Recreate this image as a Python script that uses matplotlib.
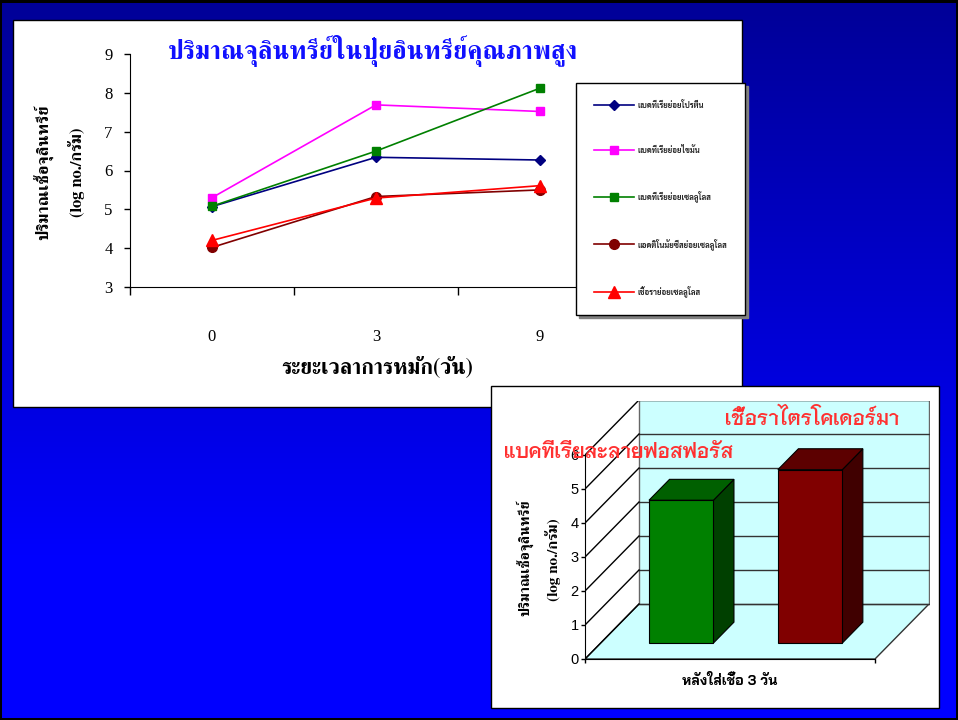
import numpy as np
import matplotlib
matplotlib.use("Agg")
import matplotlib.pyplot as plt
from matplotlib.patches import Rectangle, Polygon
from matplotlib.transforms import Affine2D

# ---- ข้อมูลกราฟเส้น: ปริมาณจุลินทรีย์ (log no./กรัม) ตามระยะเวลาการหมัก ----
DAYS = ["0", "3", "9"]
SERIES_NAMES = [
    "แบคทีเรียย่อยโปรตีน",
    "แบคทีเรียย่อยไขมัน",
    "แบคทีเรียย่อยเซลลูโลส",
    "แอคติโนมัยซีสย่อยเซลลูโลส",
    "เชื้อราย่อยเซลลูโลส",
]
PROTEIN = [5.07, 6.34, 6.27]
FAT = [5.30, 7.69, 7.52]
CELLULOSE_BACT = [5.08, 6.50, 8.12]
ACTINO = [4.02, 5.33, 5.50]
FUNGI = [4.20, 5.29, 5.61]

# ---- ข้อมูลกราฟแท่ง: หลังใส่เชื้อ 3 วัน ----
BAR_CATEGORY = "หลังใส่เชื้อ 3 วัน"
BAR_NAMES = ["แบคทีเรียละลายฟอสฟอรัส", "เชื้อราไตรโคเดอร์มา"]
BAR_VALUES = [4.2, 5.1]

W, H = 958, 720
SERIF_TH = "FreeSerif"

fig = plt.figure(figsize=(W / 100, H / 100), dpi=100)

# พิกัดเป็นพิกเซลจากมุมซ้ายบน
px = Affine2D().scale(1 / W, -1 / H).translate(0, 1) + fig.transFigure


def fig_axes(left, top, right, bottom):
    return fig.add_axes([left / W, 1 - bottom / H, (right - left) / W, (bottom - top) / H])


# พื้นหลังไล่สีน้ำเงิน
bg = fig.add_axes([0, 0, 1, 1], zorder=-10)
rows = np.arange(H)
blue = np.clip(0.6 + 0.4 * (rows - 10) / 550, 0.6, 1.0)
grad = np.zeros((H, 1, 3))
grad[:, 0, 2] = blue
bg.imshow(grad, aspect="auto", extent=(0, W, H, 0))
bg.set_xlim(0, W)
bg.set_ylim(H, 0)
bg.axis("off")
for r in [(0, 0, W, 3), (0, 0, 2, H), (W - 2, 0, 2, H), (0, H - 2, W, 2)]:
    bg.add_patch(Rectangle(r[:2], r[2], r[3], color="black", lw=0))

# กรอบสีขาวของกราฟเส้น
fig.patches.append(Rectangle((13, 20), 729, 387, transform=px, facecolor="white",
                             edgecolor="black", lw=1, zorder=-5))
# กรอบสีขาวของกราฟแท่ง
fig.patches.append(Rectangle((491, 386), 448, 322, transform=px, facecolor="white",
                             edgecolor="black", lw=1, zorder=5))

# ---------------- กราฟเส้น ----------------
ax = fig_axes(130, 54, 622, 287)
ax.set_facecolor("none")
styles = [
    (PROTEIN, "#000080", "D", 5.5),
    (FAT, "#FF00FF", "s", 6),
    (CELLULOSE_BACT, "#008000", "s", 6),
    (ACTINO, "#800000", "o", 7),
    (FUNGI, "#FF0000", "^", 8),
]
x = np.arange(len(DAYS))
handles = []
for vals, color, marker, ms in styles:
    line, = ax.plot(x, vals, color=color, marker=marker, ms=ms, lw=1.2, clip_on=False)
    handles.append(line)

ax.set_xlim(-0.5, len(DAYS) - 0.5)
ax.set_ylim(3, 9)
for s in ["top", "right"]:
    ax.spines[s].set_visible(False)
ax.set_yticks(range(3, 10))
ax.set_xticks(x, DAYS)
ax.set_xticks(np.arange(len(DAYS) + 1) - 0.5, minor=True)
ax.tick_params(axis="y", direction="out", length=4.5, width=1, pad=8, labelsize=12)
ax.tick_params(axis="x", which="major", length=0, pad=30, labelsize=12)
ax.tick_params(axis="x", which="minor", direction="out", length=6, width=1)
for lab in ax.get_xticklabels() + ax.get_yticklabels():
    lab.set_family("Liberation Serif")

fig.text(373, 51, "ปริมาณจุลินทรีย์ในปุ๋ยอินทรีย์คุณภาพสูง", transform=px, ha="center",
         va="center", color="#1010FF", fontsize=18.4, weight="bold", family=SERIF_TH)
fig.text(377, 367, "ระยะเวลาการหมัก(วัน)", transform=px, ha="center", va="center",
         fontsize=15.5, weight="bold", family=SERIF_TH)
fig.text(43, 172, "ปริมาณเชื้อจุลินทรีย์", transform=px, ha="center", va="center",
         rotation=90, fontsize=12.2, weight="bold", family=SERIF_TH)
fig.text(77, 172, "(log no./กรัม)", transform=px, ha="center", va="center",
         rotation=90, fontsize=12, weight="bold", family=SERIF_TH)

leg = fig.legend(handles, SERIES_NAMES, loc="upper left", bbox_to_anchor=(576, 83),
                 bbox_transform=px, borderaxespad=0, borderpad=2.3, labelspacing=4.6,
                 handlelength=5.2, handletextpad=0.4, fancybox=False, framealpha=1,
                 edgecolor="black", shadow={"color": "gray", "alpha": 1},
                 prop={"family": "Sarabun", "weight": "bold", "size": 5.6})
leg.get_frame().set_linewidth(1)
for t in leg.get_texts():
    t.set_color("#222222")

# ---------------- กราฟแท่งสามมิติ ----------------
DX, DZ = 54 / 290, 55 / 34      # ระยะเยื้องของความลึก (หน่วยข้อมูล)
bx = fig_axes(585, 401, 930, 659)
bx.set_zorder(6)
bx.set_facecolor("none")
bx.set_xlim(0, 345 / 290)
bx.set_ylim(0, 258 / 34)
ymax = 6

# ผนังซ้าย พื้น และผนังหลัง
bx.add_patch(Polygon([(0, 0), (DX, DZ), (DX, DZ + ymax), (0, ymax)], closed=True,
                     facecolor="white", edgecolor="none", zorder=0))
bx.add_patch(Polygon([(0, 0), (1, 0), (1 + DX, DZ), (DX, DZ)], closed=True,
                     facecolor="#CCFFFF", edgecolor="#333333", lw=1, zorder=0))
bx.add_patch(Rectangle((DX, DZ), 1, ymax, facecolor="#CCFFFF", edgecolor="#666666",
                       lw=1, zorder=0))
for v in range(ymax + 1):
    bx.plot([DX, 1 + DX], [DZ + v, DZ + v], color="#333333", lw=1, zorder=1)
    bx.plot([0, DX], [v, DZ + v], color="black", lw=1, zorder=1)

bar_w = 1 / 4.5
d0, d1 = 0.29, 0.67
faces = [("#008000", "#006000", "#004000"), ("#800000", "#5C0000", "#400000")]
for i, (val, (cf, ct, cs)) in enumerate(zip(BAR_VALUES, faces)):
    x0 = 0.75 * bar_w + i * 2 * bar_w
    fx, fz = x0 + d0 * DX, d0 * DZ
    rx, rz = x0 + d1 * DX, d1 * DZ
    # ด้านข้าง ด้านบน และด้านหน้าของแท่ง
    bx.add_patch(Polygon([(fx + bar_w, fz), (rx + bar_w, rz), (rx + bar_w, rz + val),
                          (fx + bar_w, fz + val)], closed=True, facecolor=cs,
                         edgecolor="black", lw=0.8, zorder=3))
    bx.add_patch(Polygon([(fx, fz + val), (fx + bar_w, fz + val), (rx + bar_w, rz + val),
                          (rx, rz + val)], closed=True, facecolor=ct,
                         edgecolor="black", lw=0.8, zorder=3))
    bx.add_patch(Rectangle((fx, fz), bar_w, val, facecolor=cf, edgecolor="black",
                           lw=0.8, zorder=3))

for s in ["top", "right"]:
    bx.spines[s].set_visible(False)
bx.spines["left"].set_bounds(0, ymax)
bx.spines["bottom"].set_bounds(0, 1)
bx.set_yticks(range(ymax + 1))
bx.set_xticks([0, 1], ["", ""])
bx.set_xticks([0.5], [BAR_CATEGORY], minor=True)
bx.tick_params(axis="y", direction="out", length=3, width=1, pad=1.5, labelsize=10.5)
bx.tick_params(axis="x", which="major", direction="out", length=3, width=1)
bx.tick_params(axis="x", which="minor", length=0, pad=11, labelsize=10)
for lab in bx.get_yticklabels():
    lab.set_family("Liberation Sans")
for lab in bx.get_xticklabels(minor=True):
    lab.set_family(["Bai Jamjuree", "Liberation Sans"])
    lab.set_weight("bold")

fig.text(525, 558, "ปริมาณเชื้อจุลินทรีย์", transform=px, ha="center", va="center",
         rotation=90, fontsize=10.5, weight="bold", family=SERIF_TH, zorder=7)
fig.text(553, 560, "(log no./กรัม)", transform=px, ha="center", va="center",
         rotation=90, fontsize=11, weight="bold", family=SERIF_TH, zorder=7)

fig.text(812, 418, BAR_NAMES[1], transform=px, ha="center", va="center",
         color="#FF3030", fontsize=14.3, family="Niramit", weight="semibold", zorder=8)
fig.text(619, 452, BAR_NAMES[0], transform=px, ha="center", va="center",
         color="#FF3030", fontsize=14.3, family="Niramit", weight="semibold", zorder=8)

fig.savefig("out.png", dpi=100)
